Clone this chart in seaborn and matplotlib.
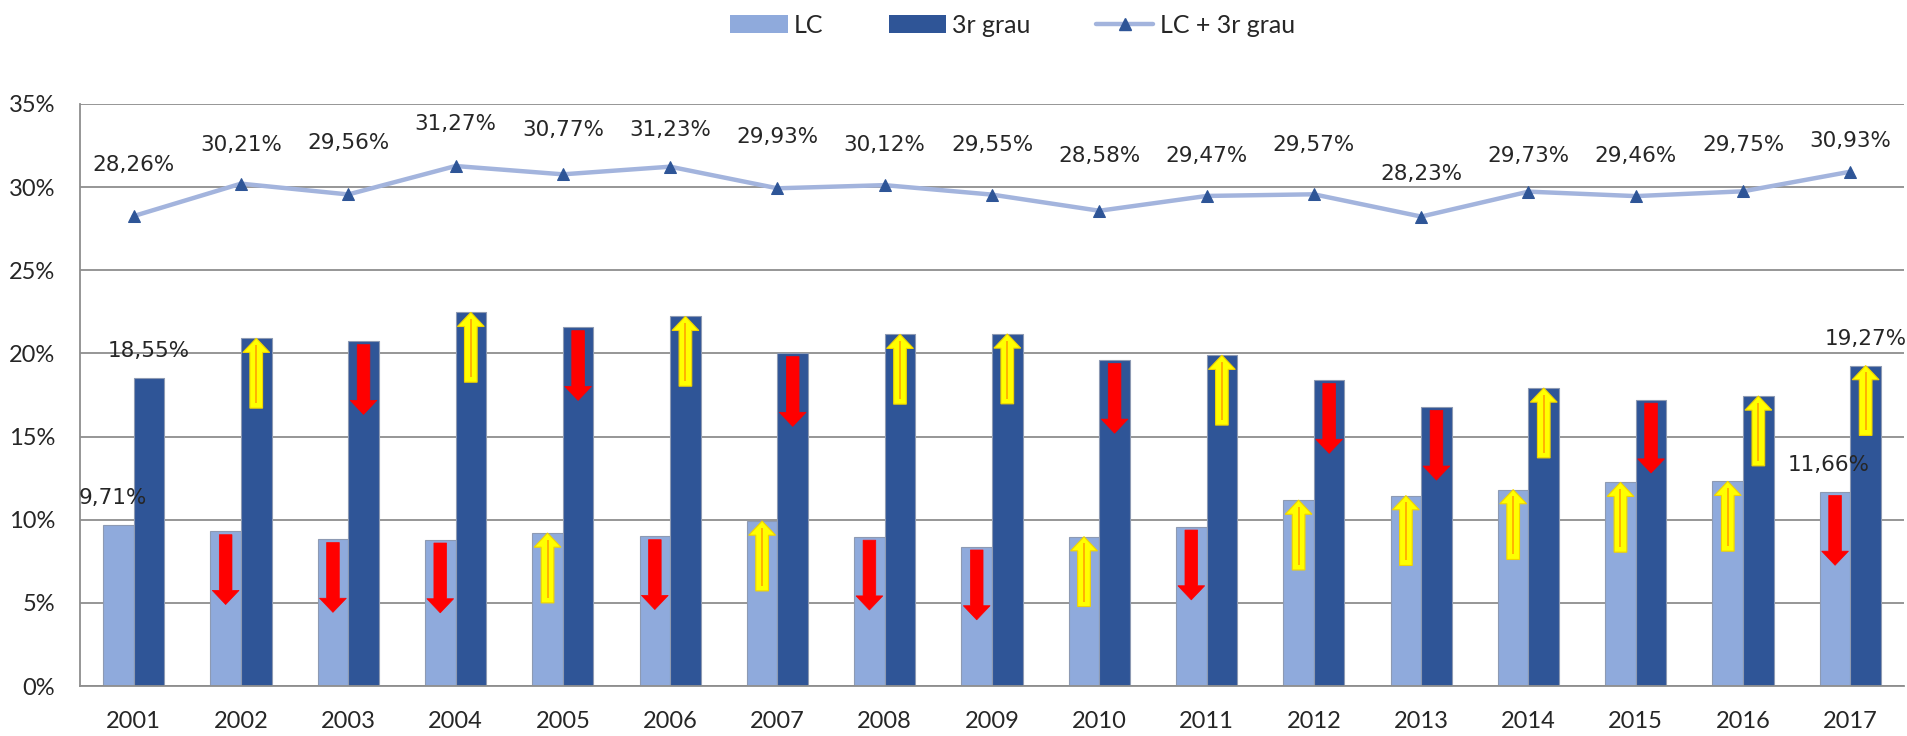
import numpy as np
import pandas as pd
import matplotlib
matplotlib.use('Agg')
import matplotlib.pyplot as plt
from matplotlib.patches import FancyArrow, Patch
from matplotlib.lines import Line2D
import seaborn as sns

# --- data (percent) ---
years = ['2001', '2002', '2003', '2004', '2005', '2006', '2007', '2008', '2009',
         '2010', '2011', '2012', '2013', '2014', '2015', '2016', '2017']
lc = [9.71, 9.30, 8.83, 8.80, 9.20, 9.00, 9.92, 8.97, 8.38,
      8.98, 9.58, 11.18, 11.45, 11.81, 12.25, 12.31, 11.66]
grau = [18.55, 20.91, 20.73, 22.47, 21.57, 22.23, 20.01, 21.15, 21.17,
        19.60, 19.89, 18.39, 16.78, 17.92, 17.21, 17.44, 19.27]
total = [28.26, 30.21, 29.56, 31.27, 30.77, 31.23, 29.93, 30.12, 29.55,
         28.58, 29.47, 29.57, 28.23, 29.73, 29.46, 29.75, 30.93]
# trend arrows as drawn in the original
lc_trend = [None, 'down', 'down', 'down', 'up', 'down', 'up', 'down', 'down',
            'up', 'down', 'up', 'up', 'up', 'up', 'up', 'down']
grau_trend = [None, 'up', 'down', 'up', 'down', 'up', 'down', 'up', 'up',
              'down', 'up', 'down', 'down', 'up', 'down', 'up', 'up']

series_names = ['LC', '3r grau']
df = pd.DataFrame({
    'year': years * 2,
    'value': lc + grau,
    'serie': [series_names[0]] * len(years) + [series_names[1]] * len(years),
})

# colours
c_lc = '#8FAADC'
c_grau = '#2F5597'
c_line = '#A3B4DD'
c_marker = '#2E5597'
c_grid = '#8E8E8E'
c_text = '#262626'

sns.set_style('white')
plt.rcParams['font.family'] = ['Lato', 'DejaVu Sans']

fig = plt.figure(figsize=(19.07, 7.36), dpi=100)
ax = fig.add_axes([0.04195, 0.0679, 0.95648, 0.7908])

sns.barplot(data=df, x='year', y='value', hue='serie', palette=[c_lc, c_grau],
            width=0.57, saturation=1, edgecolor='#8d9ab3', linewidth=0.8,
            legend=False, ax=ax, zorder=2)

x = np.arange(len(years))
sns.lineplot(x=x, y=total, color=c_line, lw=3.2, marker='^', ms=9,
             markerfacecolor=c_marker, markeredgecolor=c_marker, ax=ax, zorder=4)

# axis styling
ax.set_xlim(-0.5, len(years) - 0.5)
ax.set_ylim(0, 35)
ax.set_yticks(np.arange(0, 36, 5))
ax.set_yticklabels([f'{t}%' for t in range(0, 36, 5)])
ax.set_xlabel('')
ax.set_ylabel('')
ax.yaxis.grid(True, color=c_grid, lw=1.3, zorder=0)
ax.set_axisbelow(True)
for s in ['top', 'right']:
    ax.spines[s].set_visible(False)
for s in ['left', 'bottom']:
    ax.spines[s].set_color(c_grid)
    ax.spines[s].set_linewidth(1.3)
ax.tick_params(axis='y', length=6, width=1.3, color=c_grid, pad=12,
               labelsize=17, labelcolor=c_text)
ax.tick_params(axis='x', which='major', length=0, pad=18, labelsize=17,
               labelcolor=c_text)
ax.set_xticks(np.arange(-0.5, len(years), 1), minor=True)
ax.tick_params(axis='x', which='minor', length=6.5, width=1.3, color=c_grid,
               direction='out')

# trend arrows inside the bars
half = 0.57 / 4
arrow_len = 4.2


def draw_arrow(xc, top, trend):
    if trend == 'up':
        tip = top
        tail = tip - arrow_len
        arr = FancyArrow(xc, tail, 0, arrow_len, width=0.118, head_width=0.25,
                         head_length=0.85, length_includes_head=True,
                         facecolor='#FFFF00', edgecolor='#F2D200', lw=0.8,
                         zorder=5)
        ax.add_patch(arr)
        ax.plot([xc, xc], [tail + 0.3, tip - 0.4], color='#FFA500', lw=1.2,
                zorder=6, solid_capstyle='butt')
    else:
        tail = top - 0.2
        arr = FancyArrow(xc, tail, 0, -arrow_len, width=0.118, head_width=0.25,
                         head_length=0.85, length_includes_head=True,
                         facecolor='#FF0000', edgecolor='#FF0000', lw=0.5,
                         zorder=5)
        ax.add_patch(arr)


for i in range(len(years)):
    if lc_trend[i]:
        draw_arrow(i - half, lc[i], lc_trend[i])
    if grau_trend[i]:
        draw_arrow(i + half, grau[i], grau_trend[i])


def pct(v):
    return f'{v:.2f}'.replace('.', ',') + '%'


label_font = dict(family='DejaVu Sans', fontsize=15.5, color=c_text)

# labels on the total line (offsets follow the original placement)
line_dy = [51, 39, 51, 42, 44, 37, 51, 40, 50, 55, 40, 49, 43, 36, 40, 46, 31]
for i, v in enumerate(total):
    ax.annotate(pct(v), (i, v), xytext=(0, line_dy[i]), textcoords='offset pixels',
                ha='center', va='center', zorder=7, **label_font)

# labels on the first and last bars
for i in [0, len(years) - 1]:
    ax.annotate(pct(lc[i]), (i - half, lc[i]), xytext=(-6, 27),
                textcoords='offset pixels', ha='center', va='center',
                zorder=7, **label_font)
    ax.annotate(pct(grau[i]), (i + half, grau[i]), xytext=(0, 27),
                textcoords='offset pixels', ha='center', va='center',
                zorder=7, **label_font)

# legend
handles = [
    Patch(facecolor=c_lc, edgecolor='none'),
    Patch(facecolor=c_grau, edgecolor='none'),
    Line2D([], [], color=c_line, lw=3.2, marker='^', ms=9,
           markerfacecolor=c_marker, markeredgecolor=c_marker),
]
fig.legend(handles, ['LC', '3r grau', 'LC + 3r grau'], loc='center',
           bbox_to_anchor=(0.531, 0.966), ncol=3, frameon=False,
           fontsize=18, handlelength=2.3, handleheight=0.75,
           handletextpad=0.25, columnspacing=2.6, labelcolor=c_text)

fig.savefig('out.png', dpi=100)
